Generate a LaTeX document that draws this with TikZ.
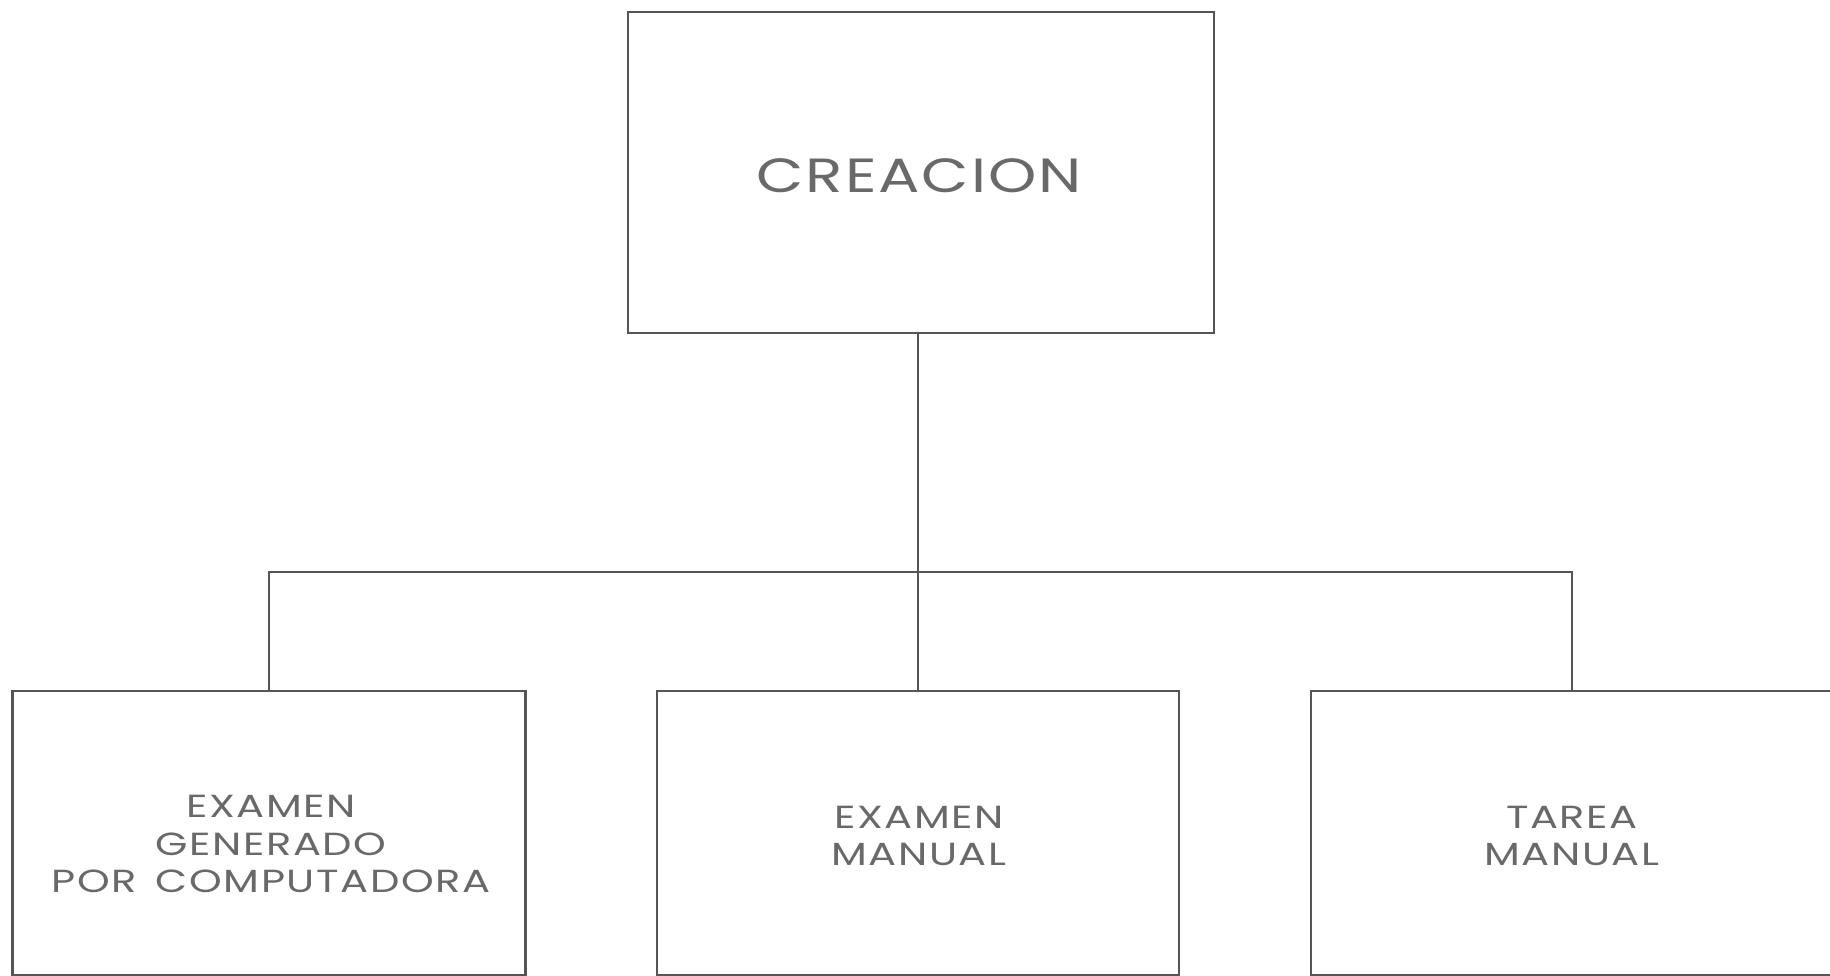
\documentclass[tikz,border=0pt]{standalone}
\usepackage{fontspec}
\newfontfamily\lett[LetterSpace=5,FakeStretch=1.3]{Poppins}
\newfontfamily\lettb[LetterSpace=4,FakeStretch=1.28]{Poppins}
\definecolor{txt}{RGB}{105,105,105}
\definecolor{ln}{RGB}{85,85,85}
\begin{document}
\begin{tikzpicture}[x=1pt,y=-1pt,
  box/.style={draw=ln,line width=2.6pt,inner sep=0pt},
  conn/.style={draw=ln,line width=1.3pt},
  lbl/.style={inner sep=0pt,align=center,text=txt},
  small/.style={font=\lett\fontsize{32}{37.5}\selectfont},
  big/.style={font=\lettb\fontsize{48}{56}\selectfont}]
\useasboundingbox (0,0) rectangle (1830,975);
\fill[white] (0,0) rectangle (1830,975);
\node[box,minimum width=586pt,minimum height=321pt] (top) at (921,172.5) {};
\node[box,minimum width=513pt,minimum height=284pt] (left) at (269,833) {};
\node[box,minimum width=522pt,minimum height=284pt] (mid) at (918,833) {};
\node[box,minimum width=522pt,minimum height=284pt] (right) at (1572,833) {};
\node[lbl,big] (creacion) at (919,176) {CREACION};
\node[lbl,small] (t1) at (271,844) {EXAMEN\\GENERADO\\POR\hspace{0.6em}COMPUTADORA};
\node[lbl,small] (t2) at (919,836) {EXAMEN\\MANUAL};
\node[lbl,small] (t3) at (1572,836) {TAREA\\MANUAL};
\coordinate (j) at (918,572);
\draw[conn] (j |- top.south) -- (j);
\draw[conn] (left.north) -- (left.north |- j) -- (right.north |- j) -- (right.north);
\draw[conn] (j) -- (mid.north);
\end{tikzpicture}
\end{document}
